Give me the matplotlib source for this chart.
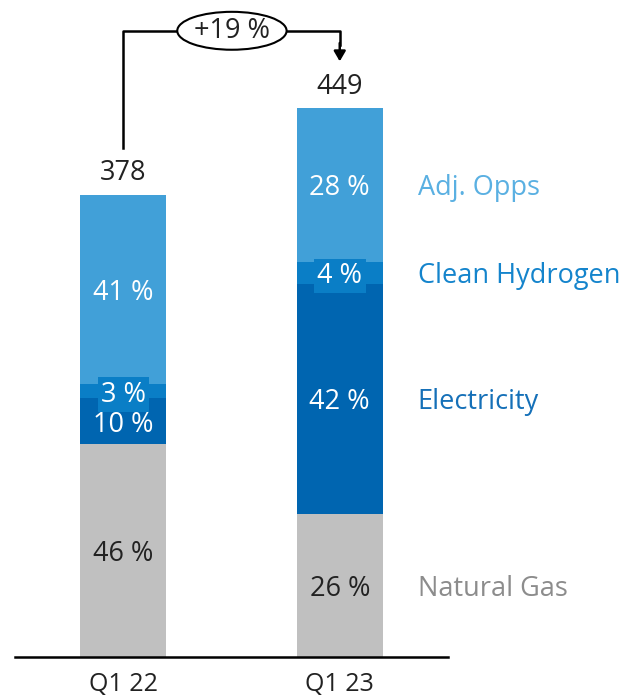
import numpy as np
import matplotlib.pyplot as plt
from matplotlib.patches import Ellipse

# data
periods = ["Q1 22", "Q1 23"]
totals = [378, 449]
segments = ["Natural Gas", "Electricity", "Clean Hydrogen", "Adj. Opps"]
shares = {
    "Natural Gas": [46, 26],
    "Electricity": [10, 42],
    "Clean Hydrogen": [3, 4],
    "Adj. Opps": [41, 28],
}
growth_label = "+19 %"

colors = {
    "Natural Gas": "#C0C0C0",
    "Electricity": "#0065B0",
    "Clean Hydrogen": "#0A7EC6",
    "Adj. Opps": "#41A0D8",
}
label_colors = {
    "Natural Gas": "#8C8C8C",
    "Electricity": "#1570B8",
    "Clean Hydrogen": "#1484CC",
    "Adj. Opps": "#5AB0E2",
}
text_colors = {
    "Natural Gas": "#222222",
    "Electricity": "white",
    "Clean Hydrogen": "white",
    "Adj. Opps": "white",
}

plt.rcParams['font.family'] = ['Open Sans', 'DejaVu Sans']
FS = 19.5

fig = plt.figure(figsize=(6.27, 6.97), dpi=100)
ax = fig.add_axes([15 / 627, 40 / 697, 433 / 627, 636 / 697])

x = np.arange(len(periods))
width = 0.396
bottom = np.zeros(len(periods))
for seg in segments:
    vals = np.array(totals) * np.array(shares[seg]) / 100.0
    ax.bar(x, vals, width, bottom=bottom, color=colors[seg], zorder=2)
    for i in range(len(periods)):
        yc = bottom[i] + vals[i] / 2
        kw = {}
        if seg == "Clean Hydrogen":
            kw["bbox"] = dict(boxstyle="square,pad=0.12", fc=colors[seg], ec="none")
        ax.text(x[i], yc, f"{shares[seg][i]} %", ha="center", va="center_baseline",
                color=text_colors[seg], fontsize=FS, zorder=4, **kw)
        if i == 1:
            ax.text(1.36, yc, seg, ha="left", va="center_baseline",
                    color=label_colors[seg], fontsize=FS)
    bottom += vals

for i in range(len(periods)):
    ax.text(x[i], totals[i] + 6, str(totals[i]), ha="center", va="bottom",
            fontsize=FS, color="#222222")

# growth bracket
ax.plot([0, 0, 1, 1], [416, 512, 512, 500], color="black", lw=1.8,
        zorder=3, clip_on=False)
ax.annotate("", xy=(1, 487), xytext=(1, 502),
            arrowprops=dict(arrowstyle="-|>,head_width=0.35,head_length=0.6",
                            color="black", lw=1.8, shrinkA=0, shrinkB=0),
            annotation_clip=False)
ax.add_patch(Ellipse((0.502, 512), 0.505, 31, fc="white", ec="black",
                     lw=1.5, zorder=4, clip_on=False))
ax.text(0.502, 512, growth_label, ha="center", va="center", fontsize=FS,
        zorder=5, color="#222222")

ax.set_xlim(-0.5, 1.5)
ax.set_ylim(0, 520)
ax.set_xticks(x)
ax.set_xticklabels(periods, fontsize=18, color="#222222")
ax.tick_params(axis="x", length=0, pad=11)
ax.set_yticks([])
for s in ["top", "right", "left"]:
    ax.spines[s].set_visible(False)
ax.spines["bottom"].set_linewidth(1.8)
ax.spines["bottom"].set_zorder(3)

fig.savefig("out.png", dpi=100)
